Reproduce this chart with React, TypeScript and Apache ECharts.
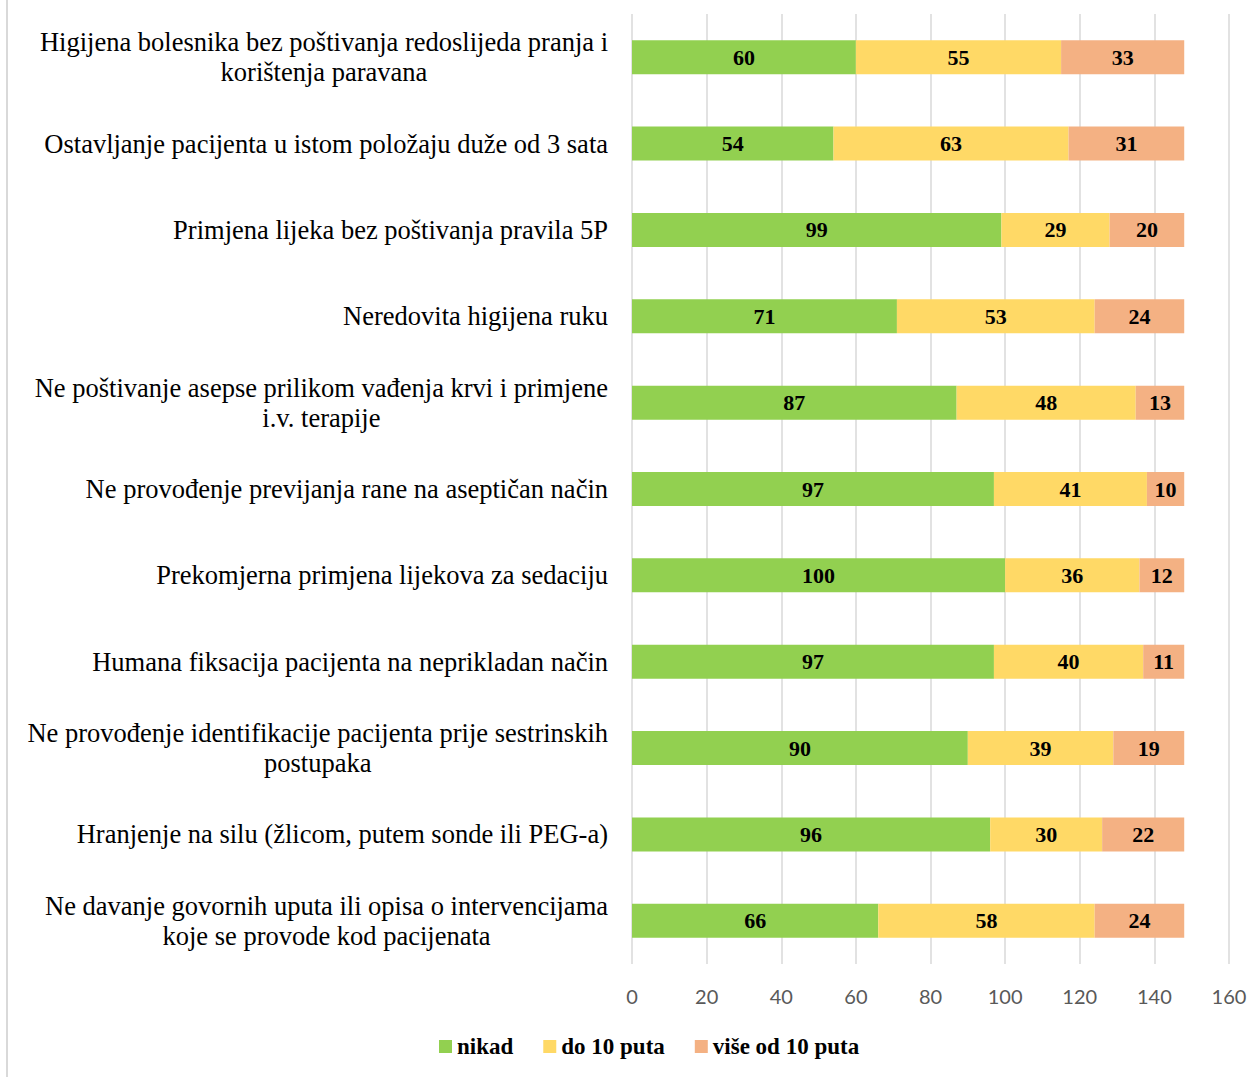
import React, { useEffect, useRef } from "react";
import * as echarts from "echarts";

const categories: string[] = [
  "Higijena bolesnika bez poštivanja redoslijeda pranja i\nkorištenja paravana",
  "Ostavljanje pacijenta u istom položaju duže od 3 sata",
  "Primjena lijeka bez poštivanja pravila 5P",
  "Neredovita higijena ruku",
  "Ne poštivanje asepse prilikom vađenja krvi i primjene\ni.v. terapije",
  "Ne provođenje previjanja rane na aseptičan način",
  "Prekomjerna primjena lijekova za sedaciju",
  "Humana fiksacija pacijenta na neprikladan način",
  "Ne provođenje identifikacije pacijenta prije sestrinskih\npostupaka",
  "Hranjenje na silu (žlicom, putem sonde ili PEG-a)",
  "Ne davanje govornih uputa ili opisa o intervencijama\nkoje se provode kod pacijenata",
];

const nikad: number[] = [60, 54, 99, 71, 87, 97, 100, 97, 90, 96, 66];
const do10: number[] = [55, 63, 29, 53, 48, 41, 36, 40, 39, 30, 58];
const vise10: number[] = [33, 31, 20, 24, 13, 10, 12, 11, 19, 22, 24];

const seriesNames = ["nikad", "do 10 puta", "više od 10 puta"];
const colors = ["#92D050", "#FFD966", "#F4B183"];

const serif = "Liberation Serif, Times New Roman, DejaVu Serif, serif";

export default function App() {
  const ref = useRef<HTMLDivElement>(null);
  useEffect(() => {
    if (!ref.current) return;
    const chart = echarts.init(ref.current, undefined, { renderer: "svg" });
    const datas = [nikad, do10, vise10];
    chart.setOption({
      animation: false,
      backgroundColor: "#ffffff",
      textStyle: { fontFamily: serif },
      grid: { left: 632, right: 23, top: 14, bottom: 113, containLabel: false },
      legend: {
        bottom: 14,
        left: 434,
        icon: "rect",
        itemWidth: 13,
        itemHeight: 13,
        itemGap: 30,
        textStyle: { fontFamily: serif, fontWeight: "bold", fontSize: 23, color: "#000" },
        data: seriesNames,
      },
      xAxis: {
        type: "value",
        min: 0,
        max: 160,
        interval: 20,
        axisLine: { show: false },
        axisTick: { show: false },
        splitLine: { show: true, lineStyle: { color: "#d9d9d9", width: 1.5 } },
        axisLabel: { color: "#595959", fontSize: 20, fontFamily: "Lato", margin: 22 },
      },
      yAxis: {
        type: "category",
        inverse: true,
        data: categories,
        axisLine: { show: false },
        axisTick: { show: false },
        axisLabel: {
          margin: 24,
          align: "right",
          fontFamily: serif,
          formatter: (v: string) =>
            v
              .split("\n")
              .map((l) => `{a|${l}}`)
              .join("\n"),
          rich: {
            a: {
              align: "center",
              fontFamily: serif,
              fontSize: 26.5,
              lineHeight: 30,
              color: "#000",
            },
          },
        },
      },
      series: datas.map((d, i) => ({
        name: seriesNames[i],
        type: "bar",
        stack: "total",
        barWidth: 34,
        data: d,
        itemStyle: { color: colors[i] },
        label: {
          show: true,
          position: "inside",
          color: "#000",
          fontFamily: serif,
          fontWeight: "bold",
          fontSize: 22,
        },
      })),
      graphic: [
        {
          type: "line",
          shape: { x1: 7, y1: 0, x2: 7, y2: 1077 },
          style: { stroke: "#d9d9d9", lineWidth: 2 },
        },
      ],
    });
    return () => chart.dispose();
  }, []);
  return (
    <div
      ref={ref}
      style={{ position: "absolute", left: 0, top: 0, width: 1252, height: 1077 }}
    />
  );
}
